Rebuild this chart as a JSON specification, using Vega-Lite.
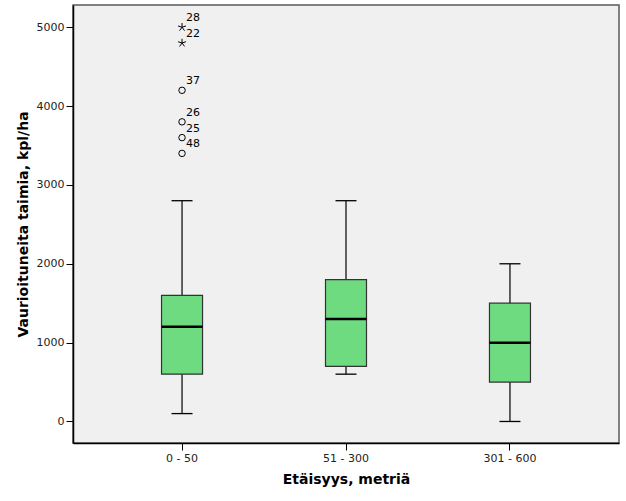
{
  "$schema": "https://vega.github.io/schema/vega-lite/v6.json",
  "autosize": "none",
  "width": 546,
  "height": 438,
  "padding": {"left": 73, "top": 5, "right": 7, "bottom": 58},
  "background": "#ffffff",
  "config": {
    "view": {"fill": "#f0f0f0", "stroke": "#5a5a5a", "strokeWidth": 1.5},
    "font": "DejaVu Sans",
    "axis": {
      "labelFont": "DejaVu Sans",
      "labelFontSize": 11,
      "labelColor": "#222222",
      "tickColor": "#000000",
      "tickSize": 7,
      "domainColor": "#000000",
      "domainWidth": 1.5,
      "grid": false,
      "titleFont": "DejaVu Sans",
      "titleFontSize": 14,
      "titleFontWeight": "bold",
      "titleColor": "#000000"
    }
  },
  "datasets": {
    "boxes": [
      {"g": "0 - 50", "lo": 100, "q1": 600, "med": 1200, "q3": 1600, "hi": 2800},
      {"g": "51 - 300", "lo": 600, "q1": 700, "med": 1300, "q3": 1800, "hi": 2800},
      {"g": "301 - 600", "lo": 0, "q1": 500, "med": 1000, "q3": 1500, "hi": 2000}
    ],
    "outliers": [
      {"g": "0 - 50", "v": 5000, "id": "28", "kind": "extreme"},
      {"g": "0 - 50", "v": 4800, "id": "22", "kind": "extreme"},
      {"g": "0 - 50", "v": 4200, "id": "37", "kind": "outlier"},
      {"g": "0 - 50", "v": 3800, "id": "26", "kind": "outlier"},
      {"g": "0 - 50", "v": 3600, "id": "25", "kind": "outlier"},
      {"g": "0 - 50", "v": 3400, "id": "48", "kind": "outlier"}
    ]
  },
  "encoding": {
    "x": {
      "field": "g",
      "type": "nominal",
      "sort": ["0 - 50", "51 - 300", "301 - 600"],
      "scale": {"domain": ["0 - 50", "51 - 300", "301 - 600"], "paddingInner": 0, "paddingOuter": 0.165},
      "axis": {"title": "Etäisyys, metriä", "labelAngle": 0, "titlePadding": 9, "labelPadding": 2}
    }
  },
  "layer": [
    {
      "data": {"name": "boxes"},
      "mark": {"type": "rule", "color": "#000000", "strokeWidth": 1.2},
      "encoding": {
        "y": {
          "field": "lo",
          "type": "quantitative",
          "scale": {"domain": [-273, 5282], "nice": false, "zero": false},
          "axis": {"title": "Vaurioituneita taimia, kpl/ha", "values": [0, 1000, 2000, 3000, 4000, 5000], "format": "d", "labelPadding": 2, "titlePadding": 6}
        },
        "y2": {"field": "hi"}
      }
    },
    {
      "data": {"name": "boxes"},
      "mark": {"type": "bar", "size": 41, "fill": "#6edb80", "stroke": "#333333", "strokeWidth": 1.2},
      "encoding": {
        "y": {"field": "q1", "type": "quantitative"},
        "y2": {"field": "q3"}
      }
    },
    {
      "data": {"name": "boxes"},
      "mark": {"type": "tick", "size": 41, "thickness": 2.5, "color": "#000000", "opacity": 1},
      "encoding": {"y": {"field": "med", "type": "quantitative"}}
    },
    {
      "data": {"name": "boxes"},
      "mark": {"type": "tick", "size": 21, "thickness": 1.3, "color": "#000000", "opacity": 1},
      "encoding": {"y": {"field": "lo", "type": "quantitative"}}
    },
    {
      "data": {"name": "boxes"},
      "mark": {"type": "tick", "size": 21, "thickness": 1.3, "color": "#000000", "opacity": 1},
      "encoding": {"y": {"field": "hi", "type": "quantitative"}}
    },
    {
      "data": {"name": "outliers"},
      "transform": [{"filter": "datum.kind === 'outlier'"}],
      "mark": {"type": "point", "shape": "circle", "filled": false, "size": 42, "stroke": "#000000", "strokeWidth": 1, "opacity": 1},
      "encoding": {"y": {"field": "v", "type": "quantitative"}}
    },
    {
      "data": {"name": "outliers"},
      "transform": [{"filter": "datum.kind === 'extreme'"}],
      "mark": {"type": "point", "shape": "M0,-1L0,0M0,0L0.95,-0.31M0,0L0.59,0.81M0,0L-0.59,0.81M0,0L-0.95,-0.31", "filled": false, "size": 70, "stroke": "#000000", "strokeWidth": 1, "opacity": 1},
      "encoding": {"y": {"field": "v", "type": "quantitative"}}
    },
    {
      "data": {"name": "outliers"},
      "mark": {"type": "text", "align": "left", "baseline": "middle", "dx": 4, "dy": -9, "fontSize": 11, "font": "DejaVu Sans", "color": "#000000"},
      "encoding": {
        "y": {"field": "v", "type": "quantitative"},
        "text": {"field": "id"}
      }
    }
  ]
}
